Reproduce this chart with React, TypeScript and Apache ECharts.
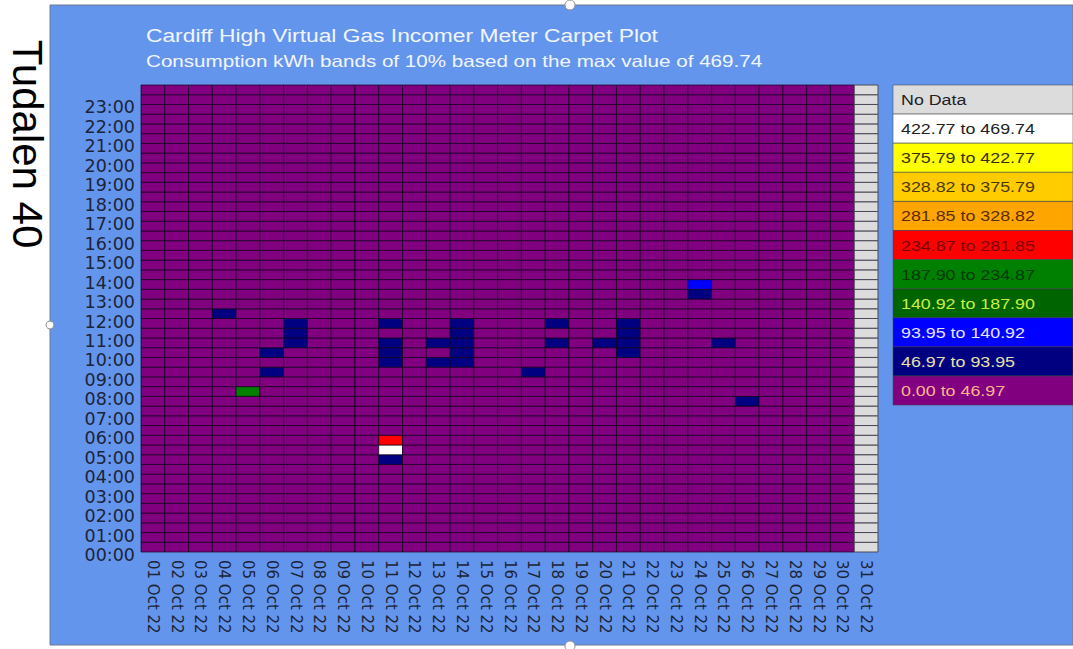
import React, { useEffect, useRef } from "react";
import * as echarts from "echarts";

// Day tick labels
const dayLabels: string[] = [
  "01 Oct 22", "02 Oct 22", "03 Oct 22", "04 Oct 22", "05 Oct 22", "06 Oct 22",
  "07 Oct 22", "08 Oct 22", "09 Oct 22", "10 Oct 22", "11 Oct 22", "12 Oct 22",
  "13 Oct 22", "14 Oct 22", "15 Oct 22", "16 Oct 22", "17 Oct 22", "18 Oct 22",
  "19 Oct 22", "20 Oct 22", "21 Oct 22", "22 Oct 22", "23 Oct 22", "24 Oct 22",
  "25 Oct 22", "26 Oct 22", "27 Oct 22", "28 Oct 22", "29 Oct 22", "30 Oct 22",
  "31 Oct 22",
];

// Hour tick labels (y axis, 00:00 .. 23:00)
const hourLabels: string[] = [
  "00:00", "01:00", "02:00", "03:00", "04:00", "05:00", "06:00", "07:00",
  "08:00", "09:00", "10:00", "11:00", "12:00", "13:00", "14:00", "15:00",
  "16:00", "17:00", "18:00", "19:00", "20:00", "21:00", "22:00", "23:00",
];

// Band edges (kWh) and colours, lowest first
const bandEdges: number[] = [0, 46.97, 93.95, 140.92, 187.9, 234.87, 281.85, 328.82, 375.79, 422.77, 469.74];
const bandColors: string[] = [
  "#800080", "#000080", "#0000FF", "#006400", "#008000",
  "#FF0000", "#FFA500", "#FFCC00", "#FFFF00", "#FFFFFF",
];
const bandTextColors: string[] = [
  "#FFB48C", "#E8E2A8", "#E6E6FF", "#C8F040", "#003A00",
  "#7A0000", "#5A2C00", "#4A3800", "#333300", "#222222",
];
const noDataColor = "#DCDCDC";

// Band index per half-hour slot (48 per day, 00:00 first), grouped 8 slots at a time.
// '0'..'9' = band, '-' = no data
const carpet: string[] = [
  "00000000 00000000 00000000 00000000 00000000 00000000", // 01
  "00000000 00000000 00000000 00000000 00000000 00000000", // 02
  "00000000 00000000 00000000 00000000 00000000 00000000", // 03
  "00000000 00000000 00000000 10000000 00000000 00000000", // 04
  "00000000 00000000 40000000 00000000 00000000 00000000", // 05
  "00000000 00000000 00101000 00000000 00000000 00000000", // 06
  "00000000 00000000 00000111 00000000 00000000 00000000", // 07
  "00000000 00000000 00000000 00000000 00000000 00000000", // 08
  "00000000 00000000 00000000 00000000 00000000 00000000", // 09
  "00000000 00000000 00000000 00000000 00000000 00000000", // 10
  "00000000 01950000 00011101 00000000 00000000 00000000", // 11
  "00000000 00000000 00000000 00000000 00000000 00000000", // 12
  "00000000 00000000 00010100 00000000 00000000 00000000", // 13
  "00000000 00000000 00011111 00000000 00000000 00000000", // 14
  "00000000 00000000 00000000 00000000 00000000 00000000", // 15
  "00000000 00000000 00000000 00000000 00000000 00000000", // 16
  "00000000 00000000 00100000 00000000 00000000 00000000", // 17
  "00000000 00000000 00000101 00000000 00000000 00000000", // 18
  "00000000 00000000 00000000 00000000 00000000 00000000", // 19
  "00000000 00000000 00000100 00000000 00000000 00000000", // 20
  "00000000 00000000 00001111 00000000 00000000 00000000", // 21
  "00000000 00000000 00000000 00000000 00000000 00000000", // 22
  "00000000 00000000 00000000 00000000 00000000 00000000", // 23
  "00000000 00000000 00000000 00120000 00000000 00000000", // 24
  "00000000 00000000 00000100 00000000 00000000 00000000", // 25
  "00000000 00000001 00000000 00000000 00000000 00000000", // 26
  "00000000 00000000 00000000 00000000 00000000 00000000", // 27
  "00000000 00000000 00000000 00000000 00000000 00000000", // 28
  "00000000 00000000 00000000 00000000 00000000 00000000", // 29
  "00000000 00000000 00000000 00000000 00000000 00000000", // 30
  "-------- -------- -------- -------- -------- --------", // 31
];

const titleText = "Cardiff High Virtual Gas Incomer Meter Carpet Plot";
const subtitleText = "Consumption kWh bands of 10% based on the max value of 469.74";
const sideText = "Tudalen 40";

function buildData(): number[][] {
  const out: number[][] = [];
  carpet.forEach((row, d) => {
    const s = row.replace(/ /g, "");
    for (let i = 0; i < s.length; i++) {
      const c = s[i];
      out.push([d, i * 0.5, c === "-" ? -1 : parseInt(c, 10)]);
    }
  });
  return out;
}

export default function App() {
  const ref = useRef<HTMLDivElement>(null);
  useEffect(() => {
    if (!ref.current) return;
    const chart = echarts.init(ref.current, null, { renderer: "svg" });
    const font = "'Liberation Sans', Arial, sans-serif";
    const axisFont = "'DejaVu Sans', sans-serif";

    const legendX = 893;
    const legendW = 180;
    const legendTop = 85;
    const rowH = 29.1;
    const legendItems: any[] = [];
    const rows: { label: string; fill: string; text: string }[] = [
      { label: "No Data", fill: noDataColor, text: "#222222" },
    ];
    for (let b = bandColors.length - 1; b >= 0; b--) {
      rows.push({
        label: `${bandEdges[b].toFixed(2)} to ${bandEdges[b + 1].toFixed(2)}`,
        fill: bandColors[b],
        text: bandTextColors[b],
      });
    }
    rows.forEach((r, i) => {
      legendItems.push({
        type: "rect",
        shape: { x: legendX, y: legendTop + i * rowH, width: legendW, height: rowH },
        style: { fill: r.fill, stroke: "rgba(70,70,70,0.55)", lineWidth: 1 },
        z: 10,
      });
      legendItems.push({
        type: "text",
        x: legendX + 8,
        y: legendTop + i * rowH + rowH / 2,
        scaleX: 1.19,
        style: {
          text: r.label,
          fill: r.text,
          font: `15px ${font}`,
          align: "left",
          verticalAlign: "middle",
        },
        z: 11,
      });
    });

    const option: any = {
      animation: false,
      backgroundColor: "#FFFFFF",
      graphic: [
        {
          type: "rect",
          shape: { x: 50, y: 5, width: 1023, height: 640 },
          style: { fill: "#6495ED", stroke: "#6b7a90", lineWidth: 1 },
          z: -10,
        },
        {
          type: "text",
          x: 27,
          y: 144,
          rotation: -Math.PI / 2,
          style: {
            text: sideText,
            fill: "#000000",
            font: `42px ${font}`,
            align: "center",
            verticalAlign: "middle",
          },
        },
        {
          type: "text",
          x: 146,
          y: 35,
          scaleX: 1.2,
          style: {
            text: titleText,
            fill: "#F2F5FF",
            font: `19px ${font}`,
            align: "left",
            verticalAlign: "middle",
          },
        },
        {
          type: "text",
          x: 146,
          y: 61,
          scaleX: 1.25,
          style: {
            text: subtitleText,
            fill: "#F2F5FF",
            font: `16.5px ${font}`,
            align: "left",
            verticalAlign: "middle",
          },
        },
        ...legendItems,
        { type: "circle", shape: { cx: 570, cy: 5, r: 5 }, style: { fill: "#FFFFFF", stroke: "#8a8a8a", lineWidth: 1 }, z: 20 },
        { type: "circle", shape: { cx: 50, cy: 325, r: 4 }, style: { fill: "#FFFFFF", stroke: "#8a8a8a", lineWidth: 1 }, z: 20 },
        { type: "circle", shape: { cx: 570, cy: 646, r: 5 }, style: { fill: "#FFFFFF", stroke: "#8a8a8a", lineWidth: 1 }, z: 20 },
      ],
      grid: { left: 141, top: 85, width: 737, height: 467, containLabel: false },
      xAxis: {
        type: "category",
        data: dayLabels,
        axisLine: { show: false },
        axisTick: { show: false },
        splitLine: { show: false },
        axisLabel: {
          interval: 0,
          rotate: -90,
          margin: 8,
          color: "#1C2438",
          fontSize: 15,
          fontFamily: axisFont,
        },
      },
      yAxis: {
        type: "value",
        min: 0,
        max: 24,
        interval: 1,
        axisLine: { show: false },
        axisTick: { show: false },
        splitLine: { show: false },
        axisLabel: {
          margin: 6,
          color: "#1C2438",
          fontSize: 17.5,
          fontFamily: axisFont,
          formatter: (v: number) => (v < hourLabels.length ? `{h|${hourLabels[v]}}` : ""),
          rich: {
            h: {
              color: "#1C2438",
              fontSize: 17.5,
              fontFamily: axisFont,
              padding: [6, 0, 0, 0],
            },
          },
        },
      },
      series: [
        {
          type: "custom",
          dimensions: ["day", "hour", "band"],
          encode: { x: 0, y: 1 },
          data: buildData(),
          renderItem: (params: any, api: any) => {
            const d = api.value(0);
            const h = api.value(1);
            const b = api.value(2);
            const top = api.coord([d, h + 0.5]);
            const bottom = api.coord([d, h]);
            const w = api.size([1, 0])[0];
            const noData = b < 0;
            return {
              type: "rect",
              shape: { x: top[0] - w / 2, y: top[1], width: w, height: bottom[1] - top[1] },
              style: {
                fill: noData ? noDataColor : bandColors[b],
                stroke: noData ? "#4a4a55" : "rgba(20,0,25,0.7)",
                lineWidth: 1,
              },
            };
          },
        },
      ],
    };
    chart.setOption(option);
    return () => chart.dispose();
  }, []);
  return (
    <div
      ref={ref}
      style={{ position: "fixed", left: 0, top: 0, width: 1073, height: 649, background: "#fff" }}
    />
  );
}
